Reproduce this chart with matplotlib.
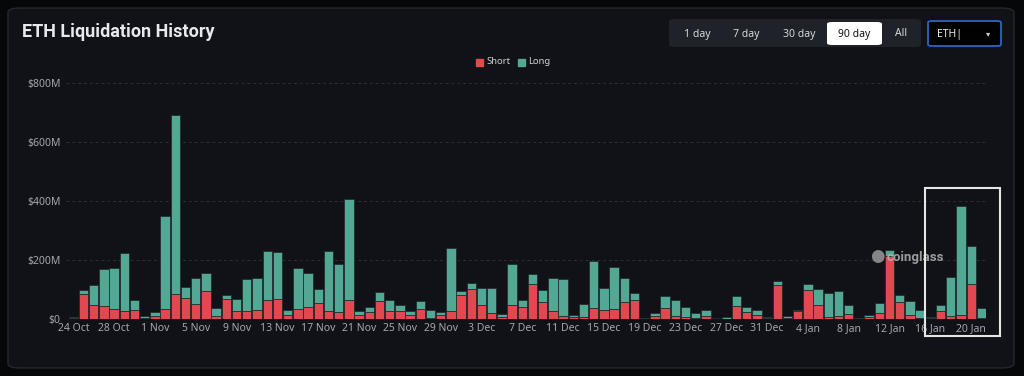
import matplotlib
matplotlib.use("Agg")
import matplotlib.pyplot as plt
from matplotlib.patches import FancyBboxPatch, Rectangle
import pandas as pd

plt.rcParams['font.family'] = ['Noto Sans', 'DejaVu Sans']

# --- datos (millones USD) ---
fechas = pd.date_range("2024-10-24", "2025-01-21", freq="D")

total = [7, 97, 114, 168, 172, 225, 65, 9,
         24, 350, 693, 109, 139, 156, 37, 80, 67, 135,
         140, 232, 228, 29, 173, 155, 103, 231, 185, 406,
         28, 42, 91, 63, 46, 26, 61, 32, 23, 242,
         96, 123, 104, 106, 16, 186, 66, 152, 100, 139,
         135, 15, 52, 198, 106, 177, 140, 87, 2, 22,
         77, 63, 42, 22, 31, 5, 6, 77, 40, 31, 8,
         129, 10, 31, 119, 101, 89, 94, 49, 2, 12,
         53, 235, 80, 60, 32, 6, 48, 143, 383, 247, 37]

short = [4, 84, 48, 44, 33, 26, 32, 5,
         11, 33, 85, 70, 52, 94, 11, 68, 27, 28,
         31, 63, 67, 14, 35, 40, 53, 27, 25, 65,
         14, 25, 61, 27, 28, 14, 33, 3, 14, 26,
         82, 102, 46, 19, 8, 46, 41, 118, 57, 28,
         9, 7, 6, 37, 32, 33, 59, 63, 1, 11,
         37, 11, 6, 5, 11, 3, 1, 43, 24, 15, 5,
         115, 5, 26, 100, 49, 6, 11, 18, 1, 6,
         19, 213, 59, 14, 5, 3, 26, 10, 15, 120, 5]

long_ = [t - s for t, s in zip(total, short)]

yticks = [0, 200, 400, 600, 800]
ylabels = ["$0", "$200M", "$400M", "$600M", "$800M"]
botones = ["1 day", "7 day", "30 day", "90 day", "All"]

# --- colores ---
fondo = "#060709"
tarjeta = "#101217"
rojo = "#e3474f"
verde = "#52a893"
gris = "#a3a7ae"

fig = plt.figure(figsize=(10.24, 3.76), dpi=100)
fig.patch.set_facecolor(fondo)

# tarjeta de fondo
card = FancyBboxPatch((8 / 1024, 8 / 376), 1006 / 1024, 360 / 376,
                      boxstyle="round,pad=0,rounding_size=0.012",
                      transform=fig.transFigure, facecolor=tarjeta,
                      edgecolor="#25282e", linewidth=1.0, zorder=-5)
fig.patches.append(card)

ax = fig.add_axes([66 / 1024, 57 / 376, 920 / 1024, 236 / 376])
ax.set_facecolor("none")
ax.set_zorder(2)

x = range(len(fechas))
ax.bar(x, short, width=0.92, color=rojo, edgecolor="#20242a", linewidth=0.5, zorder=3)
ax.bar(x, long_, bottom=short, width=0.92, color=verde, edgecolor="#20242a", linewidth=0.5, zorder=3)

ax.set_ylim(0, 800)
ax.set_xlim(-0.72, 89.45)
ax.set_yticks(yticks)
ax.set_yticklabels(ylabels)
xt = list(range(0, len(fechas), 4))
ax.set_xticks(xt)
ax.set_xticklabels([f"{fechas[i].day} {fechas[i].strftime('%b')}" for i in xt])
ax.tick_params(colors=gris, labelsize=7.5, length=0, pad=3)
ax.tick_params(axis="y", pad=4)
for s in ax.spines.values():
    s.set_visible(False)
ax.grid(axis="y", color="#2c2f35", linestyle=(0, (3, 3)), linewidth=0.7, zorder=0)
ax.grid(axis="x", visible=False)

# titulo
fig.text(22 / 1024, 1 - 32 / 376, "ETH Liquidation History", color="#e8e9eb",
         fontsize=13, fontweight="bold", va="center", ha="left",
         family=["Roboto", "DejaVu Sans"])

# leyenda
fig.patches.append(Rectangle((476 / 1024, 1 - 66 / 376), 7 / 1024, 7 / 376,
                             transform=fig.transFigure, color=rojo))
fig.text(486 / 1024, 1 - 62 / 376, "Short", color="#d0d2d6", fontsize=6.8, va="center")
fig.patches.append(Rectangle((518 / 1024, 1 - 66 / 376), 7 / 1024, 7 / 376,
                             transform=fig.transFigure, color=verde))
fig.text(528 / 1024, 1 - 62 / 376, "Long", color="#d0d2d6", fontsize=6.8, va="center")

# botones de periodo
grupo = FancyBboxPatch((669 / 1024, 1 - 47 / 376), 252 / 1024, 28 / 376,
                       boxstyle="round,pad=0,rounding_size=0.006",
                       transform=fig.transFigure, facecolor="#1f2228",
                       edgecolor="none", zorder=1)
fig.patches.append(grupo)
activo = FancyBboxPatch((827 / 1024, 1 - 45 / 376), 55 / 1024, 23 / 376,
                        boxstyle="round,pad=0,rounding_size=0.005",
                        transform=fig.transFigure, facecolor="white",
                        edgecolor="none", zorder=2)
fig.patches.append(activo)
pos_botones = [697, 746, 799, 854, 901]
for b, px in zip(botones, pos_botones):
    c = "#111111" if b == "90 day" else "#d6d8db"
    fig.text(px / 1024, 1 - 34 / 376, b, color=c, fontsize=7.5, ha="center", va="center", zorder=3)

# selector ETH
sel = FancyBboxPatch((928 / 1024, 1 - 46 / 376), 73 / 1024, 25 / 376,
                     boxstyle="round,pad=0,rounding_size=0.004",
                     transform=fig.transFigure, facecolor="#000000",
                     edgecolor="#2d63c8", linewidth=1.3, zorder=1)
fig.patches.append(sel)
fig.text(937 / 1024, 1 - 34 / 376, "ETH|", color="#e8e9eb", fontsize=7.5, va="center")
fig.text(988 / 1024, 1 - 34 / 376, "▾", color="#c8cacd", fontsize=6, ha="center", va="center")

# marca de agua
fig.text(877 / 1024, 1 - 257 / 376, "●", color="#9a9a9a", fontsize=12, ha="center", va="center",
         alpha=0.85, zorder=5)
fig.text(887 / 1024, 1 - 257 / 376, "coinglass", color="#b5b5b5", fontsize=9.5,
         fontweight="bold", va="center", ha="left", alpha=0.85, zorder=5,
         family=["Roboto", "DejaVu Sans"])

# recuadro blanco resaltado
fig.patches.append(Rectangle((925 / 1024, 1 - 336 / 376), 75 / 1024, 148 / 376,
                             transform=fig.transFigure, fill=False,
                             edgecolor="#e6e6e6", linewidth=1.5, zorder=6))

plt.savefig("out.png", dpi=100, facecolor=fig.get_facecolor())
